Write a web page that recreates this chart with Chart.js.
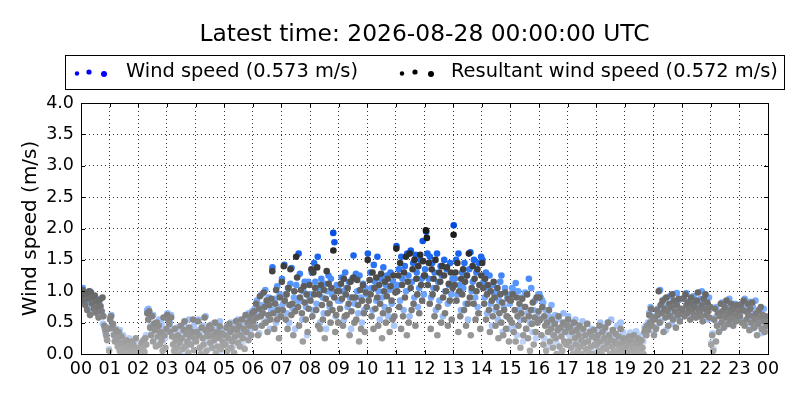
<!DOCTYPE html>
<html>
<head>
<meta charset="utf-8">
<script src="https://cdn.jsdelivr.net/npm/chart.js@4.4.1/dist/chart.umd.min.js"></script>
<style>
  body { margin: 0; background: #fff; }
  #windChart { display: block; }
</style>
</head>
<body>
<canvas id="windChart" width="800" height="400"></canvas>
<script>
// chart text
const titleText = 'Latest time: 2026-08-28 00:00:00 UTC';
const seriesNames = ['Wind speed (0.573 m/s)', 'Resultant wind speed (0.572 m/s)'];
const yAxisTitle = 'Wind speed (m/s)';
const hourLabels = ['00','01','02','03','04','05','06','07','08','09','10','11',
                    '12','13','14','15','16','17','18','19','20','21','22','23','00'];
const yTickValues = [0, 0.5, 1, 1.5, 2, 2.5, 3, 3.5, 4];

// wind speed (m/s), one row per hour of day, samples in time order
const windSpeed = [
  [0.95,1.05,0.88,0.98,0.82,0.72,0.9,1.0,0.65,0.83,0.92,0.75,0.86,0.7,0.6,0.78,0.88,0.68,0.48,0.42,0.33,0.25,0.42,0.08],
  [0.58,0.62,0.45,0.33,0.22,0.4,0.28,0.15,0.38,0.08,0.2,0.3,0.02,0.1,0.18,0.05,0.25,0.12,0.02,0.08,0.15,0.22,0.05,0.12],
  [0.08,0.12,0.02,0.2,0.1,0.25,0.3,0.7,0.72,0.6,0.45,0.35,0.62,0.24,0.5,0.42,0.15,0.55,0.32,0.48,0.18,0.38,0.25,0.6],
  [0.65,0.58,0.5,0.62,0.4,0.3,0.18,0.08,0.42,0.25,0.12,0.33,0.02,0.2,0.48,0.28,0.1,0.4,0.55,0.15,0.35,0.22,0.45,0.3],
  [0.22,0.38,0.55,0.33,0.12,0.02,0.45,0.28,0.6,0.18,0.4,0.08,0.35,0.3,0.48,0.2,0.42,0.12,0.33,0.25,0.52,0.05,0.38,0.18],
  [0.33,0.18,0.45,0.08,0.28,0.5,0.38,0.12,0.22,0.43,0.3,0.55,0.4,0.2,0.48,0.15,0.33,0.58,0.28,0.45,0.65,0.38,0.6,0.68],
  [0.55,0.72,0.45,0.85,0.62,0.33,0.78,0.95,0.65,0.5,1.02,0.8,0.55,0.9,0.4,0.7,1.38,0.7,0.88,0.5,1.08,0.6,0.95,0.75],
  [1.2,0.8,1.42,0.95,0.65,1.05,0.5,1.12,1.37,0.72,0.9,0.4,1.1,0.85,1.6,1.28,0.85,0.55,1.0,1.15,0.75,0.3,1.15,0.9],
  [0.95,1.3,0.7,1.45,1.15,0.8,1.55,1.05,0.5,1.2,0.9,0.65,1.12,0.4,1.0,1.25,0.75,1.2,0.95,1.93,1.78,0.6,1.1,0.85],
  [1.1,0.85,1.22,1.0,0.55,1.3,1.05,0.75,1.15,0.9,0.4,1.2,1.57,0.8,1.28,1.0,0.65,1.25,0.9,0.5,1.12,0.7,1.05,0.95],
  [1.6,0.95,1.3,1.05,0.7,1.42,1.15,0.85,1.55,1.0,0.55,1.2,0.9,1.38,0.75,1.1,1.25,0.6,1.02,1.3,0.8,1.15,0.45,1.05],
  [1.72,1.1,1.35,0.85,1.55,1.2,0.7,1.4,1.0,1.6,1.25,0.6,1.65,1.15,1.45,0.9,1.58,1.3,0.75,1.05,1.5,1.2,1.8,0.95],
  [1.35,1.95,1.6,1.2,1.55,0.9,1.45,1.05,1.3,0.7,1.6,1.15,0.85,1.4,1.25,0.6,1.5,1.0,1.35,0.8,1.1,1.45,0.95,1.2],
  [2.05,1.2,1.5,0.95,1.6,1.1,0.7,1.3,1.05,1.45,0.8,1.25,0.55,1.35,1.62,1.0,1.15,1.5,0.9,1.3,0.75,1.45,1.1,1.55],
  [1.5,1.15,0.9,1.3,0.65,1.05,1.25,0.8,0.45,1.1,0.95,0.7,1.0,0.55,0.85,1.15,1.25,0.35,0.75,1.05,0.6,0.9,0.4,0.8],
  [0.95,1.05,1.02,0.45,1.13,0.3,1.0,0.7,0.55,0.9,0.2,0.75,0.98,0.4,0.65,1.2,0.5,1.05,0.35,0.7,0.85,0.25,0.6,0.95],
  [0.95,0.9,0.86,0.82,0.25,0.7,0.55,0.12,0.6,0.45,0.78,0.3,0.5,0.62,0.18,0.4,0.55,0.35,0.05,0.45,0.65,0.2,0.38,0.15],
  [0.6,0.3,0.5,0.15,0.42,0.05,0.55,0.32,0.2,0.45,0.1,0.38,0.52,0.18,0.3,0.05,0.48,0.25,0.36,0.12,0.4,0.08,0.28,0.2],
  [0.2,0.36,0.1,0.5,0.28,0.05,0.42,0.15,0.32,0.5,0.12,0.25,0.55,0.38,0.04,0.3,0.18,0.45,0.1,0.26,0.5,0.08,0.35,0.15],
  [0.15,0.28,0.04,0.2,0.34,0.1,0.28,0.03,0.18,0.36,0.12,0.24,0.05,0.3,0.08,0.2,0.42,0.45,0.4,0.5,0.66,0.75,0.55,0.6],
  [0.33,0.58,0.43,0.72,0.65,1.02,0.53,0.8,0.68,0.88,0.38,0.75,0.6,0.92,0.7,0.48,0.83,0.63,0.78,0.97,0.58,0.86,0.7,0.66],
  [0.72,0.9,0.63,0.97,0.8,0.68,0.85,0.75,0.58,0.92,0.7,0.83,0.65,0.78,0.6,0.88,1.0,0.72,0.68,0.62,0.8,0.55,0.9,0.75],
  [0.18,0.33,0.08,0.58,0.75,0.48,0.68,0.38,0.63,0.82,0.53,0.7,0.45,0.78,0.6,0.88,0.65,0.5,0.72,0.58,0.8,0.62,0.55,0.7],
  [0.62,0.8,0.53,0.72,0.88,0.48,0.7,0.58,0.83,0.65,0.4,0.75,0.53,0.85,0.62,0.45,0.58,0.68,0.33,0.5,0.72,0.6,0.42,0.55]
];

// resultant wind speed (m/s), same layout
const resultantSpeed = [
  [0.92,1.02,0.85,0.97,0.78,0.95,0.7,0.88,1.0,0.62,0.98,0.8,0.9,0.72,0.93,0.66,0.84,0.75,0.58,0.86,0.76,0.68,0.9,0.6,0.45,0.38,0.3,0.22,0.4,0.05],
  [0.55,0.6,0.42,0.48,0.3,0.2,0.38,0.25,0.12,0.35,0.05,0.18,0.28,0.0,0.08,0.15,0.02,0.22,0.1,0.0,0.05,0.12,0.2,0.03,0.16,0.0,0.08,0.25,0.1,0.02],
  [0.05,0.1,0.0,0.18,0.08,0.22,0.03,0.25,0.15,0.65,0.55,0.68,0.42,0.3,0.6,0.2,0.48,0.38,0.12,0.5,0.28,0.45,0.15,0.35,0.22,0.05,0.58,0.3,0.1,0.4],
  [0.62,0.55,0.48,0.35,0.58,0.28,0.15,0.05,0.4,0.22,0.1,0.3,0.0,0.18,0.45,0.25,0.08,0.38,0.52,0.12,0.32,0.2,0.02,0.42,0.28,0.15,0.35,0.55,0.06,0.25],
  [0.2,0.35,0.52,0.3,0.1,0.0,0.42,0.25,0.15,0.58,0.38,0.05,0.32,0.28,0.45,0.18,0.4,0.1,0.3,0.22,0.5,0.02,0.35,0.12,0.26,0.44,0.08,0.33,0.2,0.15],
  [0.3,0.15,0.42,0.05,0.25,0.48,0.35,0.1,0.2,0.4,0.02,0.28,0.52,0.38,0.18,0.45,0.12,0.3,0.55,0.25,0.4,0.08,0.62,0.35,0.5,0.22,0.45,0.58,0.3,0.65],
  [0.52,0.68,0.42,0.8,0.58,0.3,0.72,0.92,0.6,0.45,0.65,0.98,0.75,0.5,0.85,0.35,0.62,0.78,0.55,0.88,1.32,0.65,0.4,0.8,1.02,0.55,0.7,0.25,0.9,0.6],
  [1.15,0.7,1.4,0.85,0.55,0.95,0.4,1.05,0.78,1.35,0.62,0.8,0.3,1.0,0.68,1.55,1.22,0.75,0.45,0.9,1.02,0.65,0.2,1.08,0.82,0.55,0.95,0.35,0.72,1.1],
  [0.85,1.35,0.6,1.3,0.95,1.05,0.7,1.38,0.45,0.95,0.4,1.1,0.78,0.55,1.02,0.25,0.88,1.32,0.65,1.12,0.8,0.5,1.05,0.7,1.65,0.9,0.35,0.62,1.0,0.5],
  [1.0,0.72,1.12,0.88,0.45,1.2,0.6,0.95,0.62,1.05,0.8,0.3,1.15,0.68,0.9,1.22,0.5,0.9,0.55,1.18,0.78,0.2,1.02,0.4,0.85,1.1,0.65,0.35,0.98,0.75],
  [1.5,0.85,1.18,0.95,0.6,1.3,0.4,1.05,0.72,1.22,0.9,0.45,1.1,0.8,1.28,0.25,0.65,1.0,1.15,0.5,0.92,1.2,0.7,0.35,1.08,0.85,0.55,1.25,0.6,0.98],
  [1.68,1.0,1.25,0.75,1.45,0.4,1.1,0.6,1.3,0.9,1.55,0.3,1.15,0.5,1.6,1.05,0.7,1.35,0.8,1.5,0.45,1.2,0.95,1.4,0.65,1.58,1.1,0.85,1.48,1.25],
  [1.25,1.97,1.85,1.1,1.45,0.8,0.4,1.35,0.95,1.2,0.6,1.5,1.05,0.3,0.75,1.3,1.15,0.5,1.4,0.9,1.25,0.65,1.0,1.38,0.45,1.12,0.85,1.3,0.55,1.05],
  [1.9,1.1,1.3,0.85,1.45,0.35,1.0,0.6,1.2,0.95,1.35,0.7,1.15,0.45,1.25,0.8,1.6,0.9,0.3,1.05,1.4,0.8,1.2,0.55,1.0,1.35,0.65,1.1,0.4,1.25],
  [1.45,1.05,0.8,1.2,0.55,0.95,1.1,0.7,0.35,1.0,0.85,0.6,1.15,0.9,0.45,0.75,1.05,0.25,0.65,0.95,0.5,0.82,0.3,0.7,0.98,0.4,0.6,0.88,0.2,0.55],
  [0.85,0.5,0.95,0.35,0.7,0.2,0.9,0.6,0.45,0.8,0.1,0.65,0.88,0.3,0.55,0.75,0.4,0.95,0.25,0.6,0.05,0.7,0.48,0.82,0.15,0.58,0.35,0.9,0.5,0.68],
  [0.9,0.55,0.3,0.75,0.15,0.6,0.45,0.05,0.5,0.35,0.7,0.2,0.4,0.55,0.1,0.3,0.48,0.25,0.0,0.38,0.6,0.12,0.42,0.28,0.05,0.5,0.2,0.35,0.15,0.45],
  [0.55,0.2,0.42,0.1,0.35,0.0,0.5,0.25,0.15,0.38,0.05,0.3,0.45,0.12,0.22,0.0,0.4,0.18,0.3,0.08,0.48,0.2,0.02,0.35,0.12,0.28,0.0,0.38,0.15,0.25],
  [0.15,0.3,0.05,0.45,0.2,0.0,0.35,0.1,0.25,0.42,0.08,0.18,0.5,0.3,0.0,0.22,0.12,0.38,0.05,0.2,0.32,0.02,0.15,0.28,0.08,0.4,0.18,0.0,0.25,0.1],
  [0.1,0.2,0.0,0.15,0.28,0.05,0.22,0.0,0.12,0.3,0.08,0.18,0.0,0.25,0.05,0.15,0.02,0.22,0.1,0.0,0.35,0.4,0.3,0.45,0.38,0.62,0.5,0.72,0.45,0.58],
  [0.3,0.55,0.4,0.7,0.62,1.0,0.5,0.78,0.65,0.85,0.35,0.72,0.58,0.9,0.68,0.45,0.8,0.6,0.75,0.95,0.55,0.85,0.68,0.42,0.78,0.62,0.88,0.52,0.72,0.65],
  [0.7,0.88,0.6,0.95,0.78,0.65,0.82,0.72,0.55,0.9,0.68,0.8,0.62,0.75,0.58,0.85,0.98,0.7,0.65,0.6,0.78,0.52,0.88,0.72,0.95,0.62,0.82,0.68,0.58,0.75],
  [0.15,0.3,0.05,0.55,0.72,0.2,0.45,0.65,0.35,0.6,0.8,0.5,0.68,0.42,0.75,0.58,0.85,0.62,0.48,0.7,0.55,0.8,0.65,0.45,0.72,0.58,0.52,0.78,0.62,0.68],
  [0.6,0.78,0.5,0.7,0.85,0.45,0.68,0.55,0.8,0.62,0.38,0.72,0.5,0.82,0.6,0.42,0.55,0.65,0.3,0.48,0.7,0.58,0.75,0.4,0.62,0.52,0.35,0.6,0.45,0.5]
];

const FONT = 'DejaVu Sans';

// spread each hour's samples across that hour
function toPoints(byHour) {
    const pts = [];
    byHour.forEach((vals, h) => {
        vals.forEach((v, i) => pts.push({ x: h + (i + 0.5) / vals.length, y: v }));
    });
    return pts;
}

// colour ramps: light for calm, dark for strong wind
const greyStops = [[0, 172], [0.5, 138], [1.0, 98], [1.5, 50], [2.0, 22]];
const blueStops = [[0, [212, 224, 246]], [0.5, [165, 196, 250]], [1.0, [100, 160, 255]], [1.5, [30, 105, 242]], [2.0, [0, 72, 222]]];

function ramp(stops, v) {
    if (v <= stops[0][0]) return stops[0][1];
    for (let i = 1; i < stops.length; i++) {
        if (v <= stops[i][0]) {
            const t = (v - stops[i - 1][0]) / (stops[i][0] - stops[i - 1][0]);
            const a = stops[i - 1][1], b = stops[i][1];
            if (Array.isArray(a)) return a.map((c, k) => c + (b[k] - c) * t);
            return a + (b - a) * t;
        }
    }
    return stops[stops.length - 1][1];
}

function greyColor(ctx) {
    const g = Math.round(ramp(greyStops, ctx.raw ? ctx.raw.y : 0));
    return `rgb(${g},${g},${g})`;
}
function blueColor(ctx) {
    const c = ramp(blueStops, ctx.raw ? ctx.raw.y : 0).map(Math.round);
    return `rgb(${c[0]},${c[1]},${c[2]})`;
}

// title, legend box, frame and inward ticks (matplotlib look)
const decorations = {
    id: 'decorations',
    afterDraw(chart) {
        const c = chart.ctx;
        const a = chart.chartArea;
        const xs = chart.scales.x, ys = chart.scales.y;
        c.save();

        // frame
        c.strokeStyle = '#000';
        c.lineWidth = 1;
        c.strokeRect(Math.round(a.left) + 0.5, Math.round(a.top) + 0.5,
                     Math.round(a.right - a.left), Math.round(a.bottom - a.top));

        // inward ticks on all sides
        c.beginPath();
        for (let h = 0; h <= 24; h++) {
            const px = Math.round(xs.getPixelForValue(h)) + 0.5;
            c.moveTo(px, a.bottom); c.lineTo(px, a.bottom - 4);
            c.moveTo(px, a.top); c.lineTo(px, a.top + 4);
        }
        yTickValues.forEach(v => {
            const py = Math.round(ys.getPixelForValue(v)) + 0.5;
            c.moveTo(a.left, py); c.lineTo(a.left + 4, py);
            c.moveTo(a.right, py); c.lineTo(a.right - 4, py);
        });
        c.stroke();

        // title
        c.fillStyle = '#000';
        c.font = `23.4px "${FONT}"`;
        c.textAlign = 'center';
        c.textBaseline = 'middle';
        c.fillText(titleText, (a.left + a.right) / 2, 35);

        // legend
        c.strokeRect(65.5, 55.5, 719, 34);
        const cy = 72;
        const dotSets = [
            { color: '#0000ff', xs: [77, 89, 104], textX: 126 },
            { color: '#000000', xs: [402, 415, 431], textX: 451 }
        ];
        const offs = [1.5, 0, 2];
        const radii = [2.2, 2.6, 3.0];
        dotSets.forEach((d, k) => {
            c.fillStyle = d.color;
            d.xs.forEach((x, i) => {
                c.beginPath();
                c.arc(x, cy + offs[i], radii[i], 0, Math.PI * 2);
                c.fill();
            });
            c.fillStyle = '#000';
            c.font = `19.4px "${FONT}"`;
            c.textAlign = 'left';
            c.fillText(seriesNames[k], d.textX, cy);
        });
        c.restore();
    }
};

const ctx = document.getElementById('windChart').getContext('2d');

const windChart = new Chart(ctx, {
    type: 'scatter',
    data: {
        datasets: [
            {
                label: seriesNames[1],
                data: toPoints(resultantSpeed),
                backgroundColor: greyColor,
                borderWidth: 0,
                pointRadius: 3.3,
                order: 0
            },
            {
                label: seriesNames[0],
                data: toPoints(windSpeed),
                backgroundColor: blueColor,
                borderWidth: 0,
                pointRadius: 3.3,
                order: 1
            }
        ]
    },
    options: {
        responsive: false,
        animation: false,
        devicePixelRatio: 1,
        layout: { padding: { top: 103, right: 32, left: 0, bottom: 0 } },
        plugins: {
            legend: { display: false },
            title: { display: false },
            tooltip: { enabled: false }
        },
        scales: {
            x: {
                type: 'linear',
                min: 0,
                max: 24,
                afterFit: scale => { scale.height = 46; },
                afterBuildTicks: scale => { scale.ticks = hourLabels.map((_, i) => ({ value: i })); },
                ticks: {
                    autoSkip: false,
                    maxRotation: 0,
                    padding: 5,
                    color: '#000',
                    font: { family: FONT, size: 17.5 },
                    callback: value => hourLabels[value]
                },
                grid: { color: '#000', lineWidth: 0.8, drawTicks: false },
                border: { display: false, dash: [1, 3] }
            },
            y: {
                min: 0,
                max: 4,
                afterFit: scale => { scale.width = 81; },
                afterBuildTicks: scale => { scale.ticks = yTickValues.map(v => ({ value: v })); },
                ticks: {
                    padding: 7,
                    color: '#000',
                    font: { family: FONT, size: 17.5 },
                    callback: value => value.toFixed(1)
                },
                title: {
                    display: true,
                    text: yAxisTitle,
                    color: '#000',
                    font: { family: FONT, size: 20 },
                    padding: { top: 19, bottom: 0 }
                },
                grid: { color: '#000', lineWidth: 0.8, drawTicks: false },
                border: { display: false, dash: [1, 3] }
            }
        }
    },
    plugins: [decorations]
});
</script>
</body>
</html>
